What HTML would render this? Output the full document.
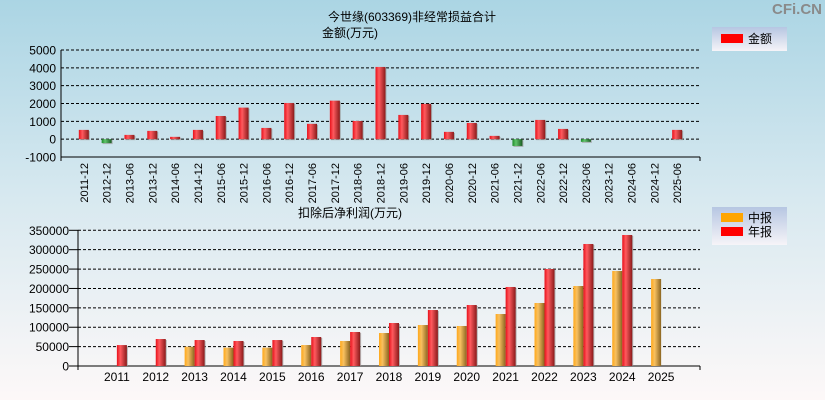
<!DOCTYPE html>
<html><head><meta charset="utf-8">
<style>
html,body{margin:0;padding:0}
body{width:825px;height:400px;overflow:hidden;font-family:"Liberation Sans","Noto Sans CJK SC",sans-serif}
svg text{font-family:"Liberation Sans","Noto Sans CJK SC",sans-serif}
</style></head>
<body>
<svg id="c" width="825" height="400" xmlns="http://www.w3.org/2000/svg">
<defs>
<linearGradient id="bg" x1="0" y1="0" x2="0" y2="1">
<stop offset="0" stop-color="#abd5e4"/><stop offset="0.5" stop-color="#d8e9f0"/><stop offset="1" stop-color="#fdf8f8"/>
</linearGradient>
<linearGradient id="gr" x1="0" y1="0" x2="1" y2="0">
<stop offset="0" stop-color="#e8101a"/><stop offset="0.35" stop-color="#ff5a5e"/><stop offset="1" stop-color="#8a1a1a"/>
</linearGradient>
<linearGradient id="gg" x1="0" y1="0" x2="1" y2="0">
<stop offset="0" stop-color="#1e8a2a"/><stop offset="0.35" stop-color="#5fc46a"/><stop offset="1" stop-color="#1a5a22"/>
</linearGradient>
<linearGradient id="go" x1="0" y1="0" x2="1" y2="0">
<stop offset="0" stop-color="#ffa81a"/><stop offset="0.35" stop-color="#f8c060"/><stop offset="1" stop-color="#8a6420"/>
</linearGradient>
<linearGradient id="lg" x1="0" y1="0" x2="0" y2="1">
<stop offset="0" stop-color="#b6c6e2"/><stop offset="1" stop-color="#f6f4f8"/>
</linearGradient>
</defs>
<rect width="825" height="400" fill="url(#bg)"/>
<text x="412" y="21" font-size="12" text-anchor="middle">今世缘(603369)非经常损益合计</text>
<text x="350" y="37" font-size="12" text-anchor="middle">金额(万元)</text>
<text x="350" y="217" font-size="12" text-anchor="middle">扣除后净利润(万元)</text>
<text x="822" y="14" font-size="15" font-weight="bold" fill="#8a8a8a" text-anchor="end">CFi.CN</text>
<g>
<rect x="712" y="27" width="75" height="24" fill="url(#lg)"/>
<rect x="721" y="34" width="22" height="9" fill="#ff0000"/>
<text x="748" y="43" font-size="12">金额</text>
</g>
<g>
<rect x="712" y="207" width="75" height="38" fill="url(#lg)"/>
<rect x="721" y="213" width="22" height="9" fill="#ffa500"/>
<text x="748" y="222" font-size="12">中报</text>
<rect x="721" y="227" width="22" height="9" fill="#ff0000"/>
<text x="748" y="236" font-size="12">年报</text>
</g>
<g id="top"></g>
<g id="bot"></g>
</svg>
<script>
const topCats=["2011-12","2012-12","2013-06","2013-12","2014-06","2014-12","2015-06","2015-12","2016-06","2016-12","2017-06","2017-12","2018-06","2018-12","2019-06","2019-12","2020-06","2020-12","2021-06","2021-12","2022-06","2022-12","2023-06","2023-12","2024-06","2024-12","2025-06"];
const topVals=[520,-220,240,465,130,520,1300,1770,630,2030,860,2160,1020,4050,1360,1980,410,910,185,-380,1080,575,-150,0,0,0,520];
const topTicks=[5000,4000,3000,2000,1000,0,-1000];
const years=["2011","2012","2013","2014","2015","2016","2017","2018","2019","2020","2021","2022","2023","2024","2025"];
const midVals=[null,null,49800,47300,47300,54100,64500,85100,105700,103200,134100,162500,206300,245000,224400];
const annVals=[54000,69600,67000,64500,67000,74800,87700,110900,144400,157300,203800,250200,314700,337900,null];
const botTicks=[350000,300000,250000,200000,150000,100000,50000,0];

const NS="http://www.w3.org/2000/svg";
function mk(p,tag,attrs){const e=document.createElementNS(NS,tag);for(const k in attrs)e.setAttribute(k,attrs[k]);p.appendChild(e);return e;}

// top chart
const T=document.getElementById('top');
const tx0=61,tx1=700,tyTop=50,tyBot=157,tmin=-1000,tmax=5000;
const ty=v=>tyBot-(v-tmin)/(tmax-tmin)*(tyBot-tyTop);
const tstep=(tx1-tx0)/(topCats.length+1);
const tcx=i=>tx0+(i+1)*tstep;
topTicks.forEach(t=>{
  if(t>tmin){const g=mk(T,'line',{x1:tx0,x2:tx1,y1:ty(t),y2:ty(t),stroke:'#000','stroke-dasharray':'3,2','stroke-width':1});
  
  }
  const l=mk(T,'text',{x:tx0-5,y:ty(t)+4.5,'font-size':12,'text-anchor':'end'});l.textContent=t;
  
  
});
mk(T,'line',{x1:tx0,x2:tx0,y1:tyTop,y2:tyBot+4,stroke:'#000'});
mk(T,'line',{x1:tx0,x2:tx1,y1:tyBot,y2:tyBot,stroke:'#000'});
mk(T,'line',{x1:tx1,x2:tx1,y1:tyBot,y2:tyBot+4,stroke:'#000'});
topCats.forEach((c,i)=>{
  const x=tcx(i),v=topVals[i];
  if(v!==0){
    const y0=ty(0),y1=ty(v);
    mk(T,'rect',{x:x-4,y:Math.min(y0,y1)+1,width:10,height:Math.abs(y1-y0),fill:'#9a9a9a',opacity:0.7});
    const b=mk(T,'rect',{x:x-5,y:Math.min(y0,y1),width:10,height:Math.abs(y1-y0),fill:v>0?'url(#gr)':'url(#gg)'});
    
    
  }
  const l=mk(T,'text',{x:0,y:0,'font-size':11,'text-anchor':'end',transform:`translate(${x+4},163) rotate(-90)`});l.textContent=c;
  
  
});

// bottom chart
const B=document.getElementById('bot');
const bx0=78,bx1=700,byTop=230.3,byBot=366,bmax=350000;
const by=v=>byBot-v/bmax*(byBot-byTop);
const bstep=(bx1-bx0)/(years.length+1);
const bcx=i=>bx0+(i+1)*bstep;
botTicks.forEach(t=>{
  if(t>0){const g=mk(B,'line',{x1:bx0,x2:bx1,y1:by(t),y2:by(t),stroke:'#000','stroke-dasharray':'3,2'});
  
  }
  const l=mk(B,'text',{x:bx0-9,y:by(t)+4.5,'font-size':12,'text-anchor':'end'});l.textContent=t;
  
  
  mk(B,'line',{x1:bx0-9,x2:bx0,y1:by(t),y2:by(t),stroke:'#000'});
});
mk(B,'line',{x1:bx0,x2:bx0,y1:byTop,y2:byBot+4,stroke:'#000'});
mk(B,'line',{x1:bx0,x2:bx1,y1:byBot,y2:byBot,stroke:'#000'});
mk(B,'line',{x1:bx1,x2:bx1,y1:byBot,y2:byBot+4,stroke:'#000'});
years.forEach((yr,i)=>{
  const x=bcx(i);
  if(midVals[i]!=null){
    const y=by(midVals[i]);
    const b=mk(B,'rect',{x:x-10,y:y,width:10,height:byBot-y,fill:'url(#go)'});
    
    
  }
  if(annVals[i]!=null){
    const y=by(annVals[i]);
    mk(B,'rect',{x:x+1,y:y+1,width:10,height:byBot-y-1,fill:'#9a9a9a',opacity:0.7});
    const b=mk(B,'rect',{x:x,y:y,width:10,height:byBot-y,fill:'url(#gr)'});
    
    
  }
  const l=mk(B,'text',{x:x,y:381,'font-size':12,'text-anchor':'middle'});l.textContent=yr;
  
  
});
</script>
</body></html>
